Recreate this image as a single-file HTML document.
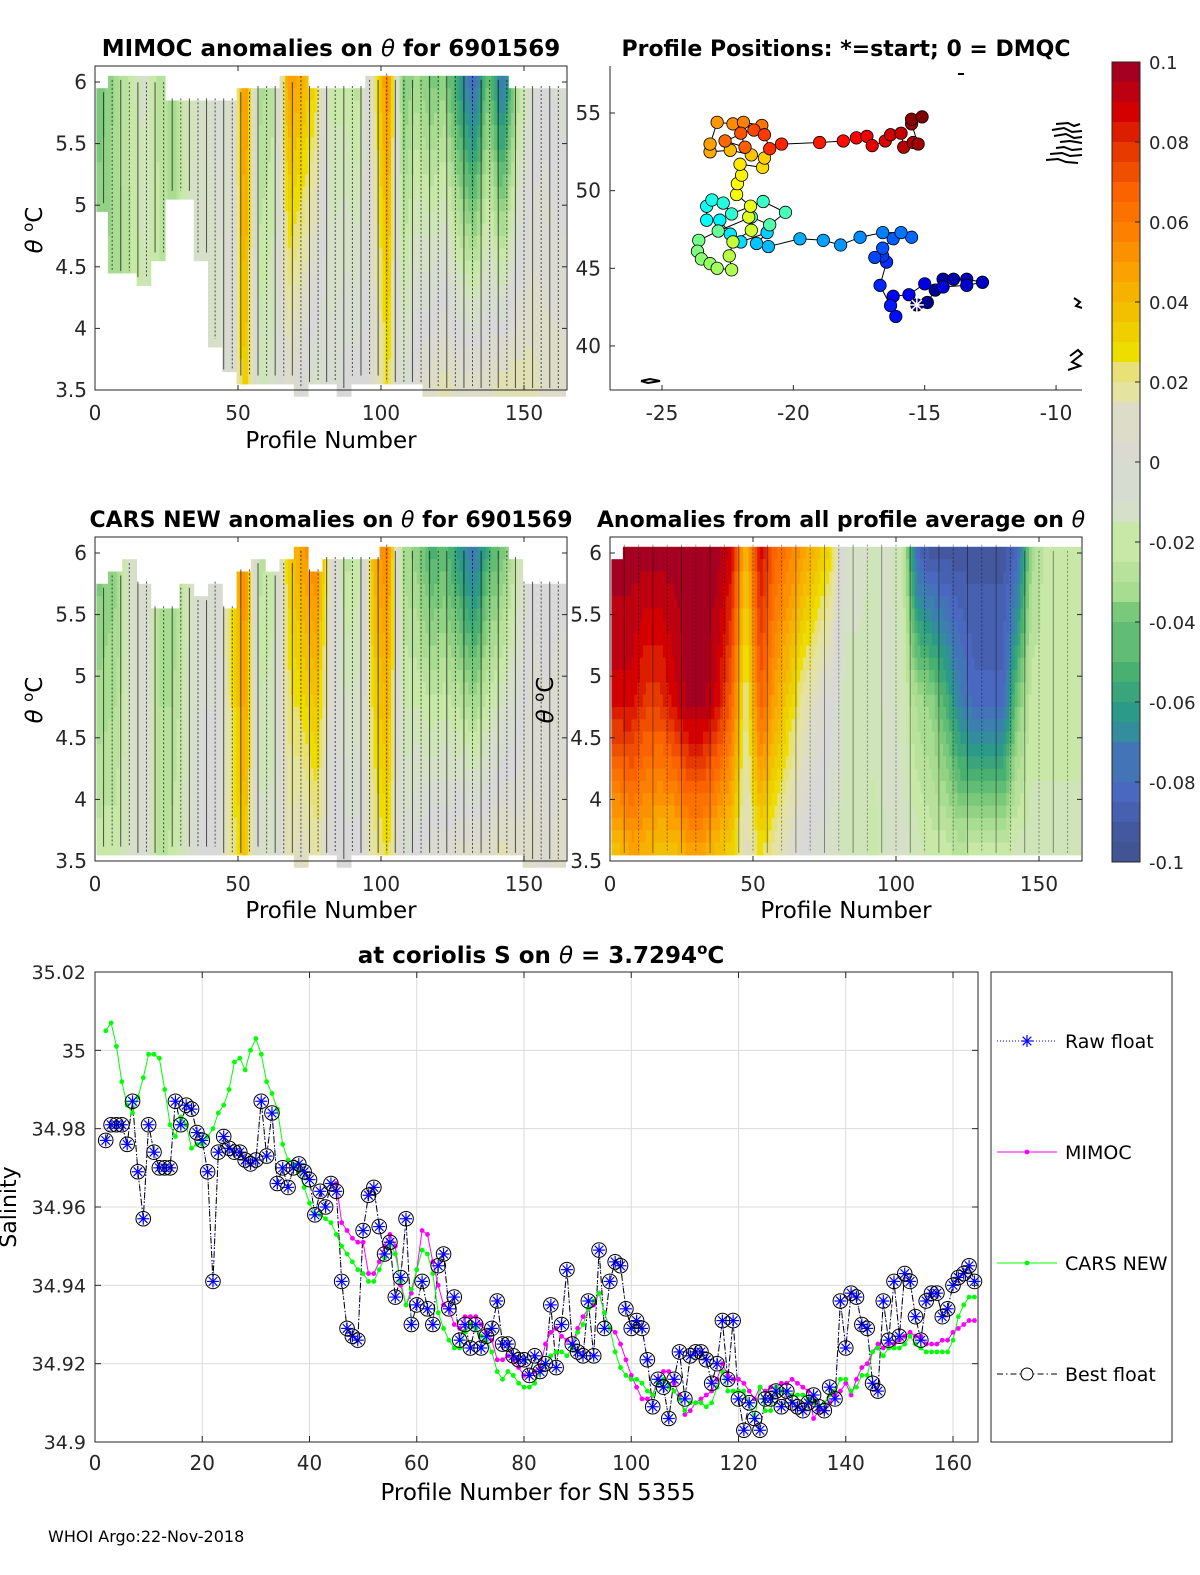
<!DOCTYPE html>
<html><head><meta charset="utf-8">
<style>
html,body{margin:0;padding:0;background:#fff;}
svg{display:block;font-family:"DejaVu Sans","Liberation Sans",sans-serif;}
</style></head>
<body>
<svg id="fig" width="1200" height="1575" viewBox="0 0 1200 1575" xmlns="http://www.w3.org/2000/svg">
<rect width="1200" height="1575" fill="#fff"/>
<g id="heat-tl"></g>
<g id="heat-ml"></g>
<g id="heat-mr"></g>
<g id="map"></g>
<g id="cbar"></g>
<g id="sal"></g>
<g id="labels">
<text x="331" y="56" font-size="23" font-weight="bold" text-anchor="middle">MIMOC anomalies on <tspan font-style="italic" font-weight="normal">θ</tspan>  for 6901569</text>
<text x="846" y="56" font-size="22" font-weight="bold" text-anchor="middle">Profile Positions: *=start; 0 = DMQC</text>
<text x="331" y="527" font-size="22" font-weight="bold" text-anchor="middle">CARS NEW anomalies on <tspan font-style="italic" font-weight="normal">θ</tspan> for 6901569</text>
<text x="841" y="527" font-size="22" font-weight="bold" text-anchor="middle">Anomalies from all profile average on <tspan font-style="italic" font-weight="normal">θ</tspan></text>
<text x="331" y="448" font-size="23" text-anchor="middle">Profile Number</text>
<text x="331" y="918" font-size="23" text-anchor="middle">Profile Number</text>
<text x="846" y="918" font-size="23" text-anchor="middle">Profile Number</text>
<text transform="translate(42,230) rotate(-90)" font-size="23" text-anchor="middle"><tspan font-style="italic">θ</tspan> <tspan baseline-shift="super" font-size="15">o</tspan>C</text>
<text transform="translate(42,700) rotate(-90)" font-size="23" text-anchor="middle"><tspan font-style="italic">θ</tspan> <tspan baseline-shift="super" font-size="15">o</tspan>C</text>
<text transform="translate(553,700) rotate(-90)" font-size="23" text-anchor="middle"><tspan font-style="italic">θ</tspan> <tspan baseline-shift="super" font-size="15">o</tspan>C</text>
<text x="541" y="963" font-size="23" font-weight="bold" text-anchor="middle">at coriolis S on <tspan font-style="italic" font-weight="normal">θ</tspan> = 3.7294<tspan baseline-shift="super" font-size="15">o</tspan>C</text>
<text transform="translate(16,1207) rotate(-90)" font-size="22" text-anchor="middle">Salinity</text>
<text x="538" y="1500" font-size="23" text-anchor="middle">Profile Number for SN 5355</text>
<text x="48" y="1542" font-size="16">WHOI Argo:22-Nov-2018</text>
</g>
</svg>
<script>
// ---------- colour map ----------
const cmapVals = [0.1,0.09,0.08,0.07,0.06,0.05,0.04,0.03,0.028,0.02,0.01,0,-0.01,-0.02,-0.03,-0.04,-0.05,-0.06,-0.07,-0.08,-0.09,-0.1];
const cmapCols = ["#a50021","#d40000","#e63a00","#fb6300","#fd8000","#fba200","#f2c000","#eddd00","#e9e060","#e5e3a0","#dcdcc8","#d8d8d8","#d6e0c8","#c8e8a8","#a8dc90","#7ac87a","#48b070","#2c9a88","#3c80b0","#4a68c0","#4458a0","#3e5288"];
function hex2rgb(h){return [parseInt(h.substr(1,2),16),parseInt(h.substr(3,2),16),parseInt(h.substr(5,2),16)];}
function cmap(v){
  v=Math.max(-0.1,Math.min(0.1,v));
  v=Math.round(v*200)/200;
  for(let i=0;i<cmapVals.length-1;i++){
    if(v<=cmapVals[i]&&v>=cmapVals[i+1]){
      const t=(cmapVals[i]-v)/(cmapVals[i]-cmapVals[i+1]);
      const a=hex2rgb(cmapCols[i]),b=hex2rgb(cmapCols[i+1]);
      return "rgb("+a.map((c,k)=>Math.round(c+(b[k]-c)*t)).join(",")+")";
    }
  }
  return cmapCols[0];
}
const NS="http://www.w3.org/2000/svg";
function mk(tag,attrs,parent){const e=document.createElementNS(NS,tag);for(const k in attrs)e.setAttribute(k,attrs[k]);if(parent)parent.appendChild(e);return e;}

// ---------- heatmap data (5-profile bins, anomaly at theta=6 / theta=3.6) ----------
const mimocTop=[-0.04,-0.03,-0.02,-0.01,-0.025,-0.03,-0.015,-0.01,-0.005,-0.01,0.06,-0.03,-0.025,0.05,0.045,0.03,-0.02,-0.02,-0.025,0.02,0.06,-0.04,-0.03,-0.04,-0.035,-0.06,-0.08,-0.04,-0.075,-0.03,-0.005,0,-0.005];
const mimocBot=[-0.03,-0.03,-0.025,-0.02,-0.02,-0.03,-0.01,-0.01,-0.01,-0.005,0.04,-0.015,-0.01,0.01,0,-0.01,-0.005,0,0,0.005,0.03,-0.01,0.005,0.01,0.015,0.01,0.01,0.01,0.015,0.015,0.015,0.01,0.01];
const mimocTmax=[5.95,6.05,6.03,6.03,6.03,5.9,5.9,5.9,5.9,5.9,5.95,6.0,6.0,6.03,6.08,6.0,6.0,6.0,6.0,6.05,6.1,6.05,6.05,6.08,6.08,6.08,6.08,6.05,6.05,6.0,6.0,6.0,6.0];
const mimocTmin=[5.0,4.45,4.45,4.4,4.6,5.1,5.1,4.6,3.9,3.65,3.6,3.6,3.6,3.6,3.5,3.55,3.55,3.5,3.6,3.6,3.55,3.55,3.55,3.5,3.5,3.5,3.5,3.5,3.5,3.5,3.5,3.5,3.5];
const carsTop=[-0.04,-0.035,-0.01,-0.005,-0.03,-0.035,-0.015,-0.005,-0.005,0.03,0.06,-0.025,-0.02,0.035,0.05,0.06,0.01,-0.025,-0.02,0.045,0.06,-0.03,-0.035,-0.05,-0.045,-0.06,-0.075,-0.05,-0.04,-0.02,0,0,0];
const carsBot=[-0.02,-0.02,-0.01,-0.005,-0.025,-0.02,-0.01,0,0,0.02,0.04,-0.01,-0.01,0.015,0.01,0.02,0,0,0,0.02,0.03,-0.005,0,0.005,0.005,0.01,0.01,0.01,0.015,0.01,0.01,0.005,0.01];
const carsTmax=[5.75,5.85,5.95,5.8,5.6,5.6,5.75,5.65,5.8,5.6,5.9,5.95,5.85,5.95,6.05,5.9,6.0,6.0,6.0,6.0,6.1,6.05,6.05,6.05,6.05,6.05,6.05,6.05,6.05,6.0,5.8,5.8,5.8];
const carsTmin=[3.6,3.6,3.6,3.55,3.55,3.6,3.6,3.6,3.6,3.55,3.55,3.6,3.55,3.55,3.5,3.55,3.55,3.5,3.55,3.55,3.55,3.55,3.55,3.55,3.55,3.55,3.55,3.55,3.55,3.55,3.5,3.5,3.5];
const avgTop=[0.1,0.1,0.1,0.1,0.1,0.1,0.1,0.1,0.09,0.04,0.09,0.07,0.06,0.05,0.04,0.03,-0.01,-0.01,-0.015,-0.01,-0.02,-0.08,-0.09,-0.09,-0.09,-0.09,-0.09,-0.09,-0.08,-0.03,-0.02,-0.02,-0.02];
const avgMid=[0.09,0.09,0.08,0.08,0.09,0.1,0.1,0.09,0.07,0.02,0.07,0.05,0.035,0.02,0.01,0,-0.015,-0.015,-0.015,-0.01,-0.015,-0.03,-0.035,-0.05,-0.07,-0.08,-0.08,-0.08,-0.04,-0.02,-0.02,-0.02,-0.02];
const avgBot=[0.04,0.05,0.045,0.04,0.04,0.05,0.05,0.04,0.035,0.01,0.03,0.02,0.01,0,-0.005,-0.01,-0.015,-0.015,-0.02,-0.01,-0.01,-0.015,-0.02,-0.02,-0.025,-0.02,-0.02,-0.02,-0.015,-0.015,-0.015,-0.015,-0.015];
const avgTmax=[5.95,6.1,6.1,6.1,6.1,6.1,6.1,6.1,6.1,6.1,6.1,6.1,6.1,6.1,6.1,6.1,6.1,6.1,6.1,6.1,6.1,6.1,6.1,6.1,6.1,6.1,6.1,6.1,6.1,6.05,6.05,6.05,6.05];
const avgTmin=[3.55,3.55,3.55,3.55,3.55,3.55,3.55,3.55,3.55,3.55,3.55,3.55,3.55,3.55,3.55,3.55,3.55,3.55,3.55,3.55,3.55,3.55,3.55,3.55,3.55,3.55,3.55,3.55,3.55,3.55,3.55,3.55,3.55];
const thetaTicks=[6,5.5,5,4.5,4,3.5];
const profTicks=[0,50,100,150];

function lerp(a,b,t){return a+(b-a)*t;}
function binVal(arr,p){const f=Math.max(0,Math.min(32,p/5-0.5));const i=Math.floor(f),j=Math.min(32,i+1);return lerp(arr[i],arr[j],f-i);}
function drawHeat(gid,x0,yTop,top,bot,mid,tmax,tmin,opts){
  const g=document.getElementById(gid);
  const X=p=>x0+p*2.86;
  const Y=th=>yTop+16+(6-th)*123.2;
  for(let p=1;p<=164;p++){
    const b=Math.min(32,Math.floor(p/5));
    for(let th=6.15;th>=3.5-1e-9;th-=0.1){
      const thc=th-0.05;
      if(thc>tmax[b]||thc<tmin[b]) continue;
      const t=Math.max(0,Math.min(1,(thc-3.6)/2.4));
      let v;
      if(mid){v=t>0.5?lerp(binVal(mid,p),binVal(top,p),(t-0.5)*2):lerp(binVal(bot,p),binVal(mid,p),t*2);}
      else v=lerp(binVal(bot,p),binVal(top,p),t);
      const r=mk('rect',{x:X(p-0.5).toFixed(1),y:Y(th).toFixed(1),width:3.4,height:12.9,fill:cmap(v)},g);
      
      
    }
    if(p%opts.lineEvery===0){
      const ln=mk('line',{x1:X(p),x2:X(p),y1:Y(tmax[b])+4,y2:Y(tmin[b])-2,stroke:'#000','stroke-width':1,opacity:opts.lineOp,'stroke-dasharray':(p%2?'none':'2,2')},g);
      
      
    }
  }
  const bx=mk('rect',{x:x0,y:yTop,width:472,height:324,fill:'none',stroke:'#262626','stroke-width':1},g);
  
  
  thetaTicks.forEach(th=>{
    mk('line',{x1:x0,x2:x0+5,y1:Y(th),y2:Y(th),stroke:'#262626'},g);
    mk('line',{x1:x0+467,x2:x0+472,y1:Y(th),y2:Y(th),stroke:'#262626'},g);
    const tx=mk('text',{x:x0-8,y:Y(th)+7,'font-size':20,'text-anchor':'end',fill:'#262626'},g);
    tx.textContent=String(th);
    
    
  });
  profTicks.forEach(pv=>{
    mk('line',{x1:X(pv),x2:X(pv),y1:yTop+324,y2:yTop+319,stroke:'#262626'},g);
    mk('line',{x1:X(pv),x2:X(pv),y1:yTop,y2:yTop+5,stroke:'#262626'},g);
    const tx=mk('text',{x:X(pv),y:yTop+354,'font-size':20,'text-anchor':'middle',fill:'#262626'},g);
    tx.textContent=String(pv);
    
    
  });
}
drawHeat('heat-tl',95,66,mimocTop,mimocBot,null,mimocTmax,mimocTmin,{lineEvery:3,lineOp:0.65});
drawHeat('heat-ml',95,537,carsTop,carsBot,null,carsTmax,carsTmin,{lineEvery:3,lineOp:0.65});
drawHeat('heat-mr',610,537,avgTop,avgBot,avgMid,avgTmax,avgTmin,{lineEvery:5,lineOp:0.4});

// ---------- colorbar ----------
const cbTicks=[0.1,0.08,0.06,0.04,0.02,0,-0.02,-0.04,-0.06,-0.08,-0.1];
(function(){
  const g=document.getElementById('cbar');
  const Y=v=>62+(0.1-v)*4000;
  for(let i=0;i<40;i++){
    const v=0.1-(i+0.5)*0.005;
    const r=mk('rect',{x:1112,y:Y(0.1-i*0.005),width:28,height:20.5,fill:cmap(v)},g);
    
    
  }
  mk('rect',{x:1112,y:62,width:28,height:800,fill:'none',stroke:'#262626'},g);
  cbTicks.forEach(v=>{
    mk('line',{x1:1135,x2:1140,y1:Y(v),y2:Y(v),stroke:'#262626'},g);
    const t=mk('text',{x:1149,y:Y(v)+7,'font-size':18,fill:'#262626'},g);
    t.textContent=(v===0?'0':String(v));
    
    
  });
})();

// ---------- map ----------
const mapLon=[-15.3,-14.9,-14.6,-14.3,-13.9,-13.4,-12.8,-13.4,-14.3,-15.0,-15.6,-16.2,-16.1,-16.3,-16.7,-16.45,-16.6,-16.9,-16.6,-16.2,-15.5,-15.9,-16.6,-17.46,-18.2,-18.86,-19.75,-20.95,-21.4,-21.0,-22.0,-22.4,-22.8,-23.3,-23.3,-23.1,-22.67,-22.35,-21.15,-20.3,-20.9,-21.6,-22.86,-23.6,-23.65,-23.5,-23.17,-22.9,-22.35,-22.44,-22.3,-21.6,-21.7,-21.63,-22.16,-22.13,-21.97,-22.03,-21.17,-21.1,-21.6,-22.4,-23.17,-23.17,-22.9,-22.3,-21.9,-21.2,-22.6,-21.84,-22.0,-21.5,-21.1,-20.9,-20.45,-19.0,-18.1,-17.6,-17.2,-17.0,-16.5,-16.3,-15.9,-15.8,-15.44,-15.25,-15.5,-15.5,-15.1];
const mapLat=[42.64,42.8,43.6,44.3,44.3,44.3,44.1,43.9,43.8,44.0,43.3,43.2,41.9,42.6,43.9,45.4,45.8,45.7,46.3,46.9,47.0,47.3,47.3,47.0,46.5,46.8,46.9,46.4,46.6,47.3,46.7,47.2,48.1,48.1,49.0,49.4,49.2,48.5,49.3,48.6,47.8,48.3,47.4,46.8,46.1,45.6,45.3,45.0,44.9,45.8,46.7,47.45,48.3,49.0,49.75,50.45,51.0,51.7,51.5,52.1,52.3,52.6,52.5,53.0,54.4,54.3,54.4,54.2,53.2,52.8,53.7,53.9,53.6,52.7,53.0,53.1,53.2,53.4,53.5,52.9,53.2,53.6,53.7,52.8,53.1,53.0,54.3,54.6,54.75];
const lonTicks=[-25,-20,-15,-10];
const latTicks=[40,45,50,55];
function jet(t){
  const r=Math.max(0,Math.min(1,1.5-Math.abs(4*t-3))),g=Math.max(0,Math.min(1,1.5-Math.abs(4*t-2))),b=Math.max(0,Math.min(1,1.5-Math.abs(4*t-1)));
  return "rgb("+[r,g,b].map(c=>Math.round(c*255)).join(",")+")";
}
(function(){
  const g=document.getElementById('map');
  const X=lon=>662+(lon+25)*26.27;
  const Y=lat=>113+(55-lat)*15.53;
  const coasts=["1056,124 1068,123 1074,126 1080,124","1052,130 1064,128 1072,132 1082,131","1054,136 1066,134 1074,138 1082,137","1060,142 1070,141 1082,143","1056,148 1064,147 1072,150 1082,149","1050,154 1062,153 1070,156 1082,155","1046,160 1058,159 1066,162 1078,163","1074,298 1080,302 1076,306 1082,308","1070,356 1078,350 1082,354 1072,362 1080,366 1068,370","641,381 650,379 660,381 648,383 641,381","958,74 964,74"];
  coasts.forEach(c=>{const pl=mk('polyline',{points:c,fill:'none',stroke:'#000','stroke-width':2},g);});
  const pts=mapLon.map((lo,i)=>X(lo).toFixed(1)+','+Y(mapLat[i]).toFixed(1)).join(' ');
  const path=mk('polyline',{points:pts,fill:'none',stroke:'#000','stroke-width':1},g);
  
  
  const n=mapLon.length;
  mapLon.forEach((lo,i)=>{
    const c=mk('circle',{cx:X(lo),cy:Y(mapLat[i]),r:6.2,fill:jet(i/(n-1)),stroke:'#000','stroke-width':0.8},g);
    
    
  });
  const sx=X(mapLon[0]),sy=Y(mapLat[0]);
  const st=mk('g',{},g);
  
  
  [[7,0],[0,7],[5,5],[5,-5]].forEach(d=>mk('line',{x1:sx-d[0],y1:sy-d[1],x2:sx+d[0],y2:sy+d[1],stroke:'#fff','stroke-width':1.5},st));
  mk('line',{x1:610,x2:610,y1:66,y2:390,stroke:'#262626'},g);
  mk('line',{x1:610,x2:1082,y1:390,y2:390,stroke:'#262626'},g);
  lonTicks.forEach(v=>{
    mk('line',{x1:X(v),x2:X(v),y1:390,y2:385,stroke:'#262626'},g);
    const t=mk('text',{x:X(v),y:420,'font-size':20,'text-anchor':'middle',fill:'#262626'},g);
    t.textContent=String(v);
    
    
  });
  latTicks.forEach(v=>{
    mk('line',{x1:610,x2:615,y1:Y(v),y2:Y(v),stroke:'#262626'},g);
    const t=mk('text',{x:601,y:Y(v)+7,'font-size':20,'text-anchor':'end',fill:'#262626'},g);
    t.textContent=String(v);
    
    
  });
})();

// ---------- salinity chart ----------
const bestStart=2;
const bestFloat=[34.977,34.981,34.981,34.981,34.976,34.987,34.969,34.957,34.981,34.974,34.970,34.970,34.970,34.987,34.981,34.986,34.985,34.979,34.977,34.969,34.941,34.974,34.978,34.975,34.974,34.974,34.972,34.971,34.972,34.987,34.973,34.984,34.966,34.970,34.965,34.970,34.971,34.969,34.967,34.958,34.964,34.960,34.966,34.964,34.941,34.929,34.927,34.926,34.954,34.963,34.965,34.955,34.948,34.951,34.937,
34.942,34.957,34.930,34.935,34.941,34.934,34.930,34.945,34.948,34.934,34.937,34.926,34.930,34.924,34.930,34.924,34.927,34.929,34.936,34.925,34.925,34.922,34.921,34.921,34.917,34.922,34.918,34.920,34.935,34.919,34.930,34.944,34.925,34.923,34.922,34.936,34.922,34.949,34.929,34.941,34.946,34.945,34.934,34.929,34.931,34.929,34.921,34.909,34.916,34.914,34.906,34.916,34.923,34.911,
34.922,34.923,34.923,34.921,34.915,34.920,34.931,34.916,34.931,34.911,34.903,34.910,34.906,34.903,34.911,34.911,34.913,34.909,34.913,34.910,34.909,34.908,34.910,34.912,34.909,34.908,34.914,34.911,34.936,34.924,34.938,34.937,34.930,34.929,34.915,34.913,34.936,34.926,34.941,34.927,34.943,34.941,34.932,34.926,34.936,34.938,34.938,34.932,34.934,34.940,34.942,34.943,34.945,34.941];
const rawFloat=bestFloat.slice();
const carsStart=2;
const carsNew=[35.005,35.007,35.001,34.992,34.986,34.984,34.988,34.993,34.999,34.999,34.998,34.990,34.981,34.978,34.983,34.981,34.975,34.976,34.976,34.978,34.980,34.984,34.986,34.990,34.997,34.998,34.995,35.000,35.003,34.999,34.992,34.989,34.985,34.976,34.972,34.971,34.969,34.965,34.961,34.958,34.958,34.957,34.956,34.953,34.950,34.948,34.946,34.944,34.943,34.941,34.941,34.944,34.947,34.951,
34.948,34.941,34.935,34.939,34.944,34.949,34.948,34.943,34.933,34.929,34.926,34.924,34.924,34.928,34.930,34.929,34.927,34.926,34.923,34.918,34.916,34.918,34.917,34.915,34.914,34.914,34.915,34.918,34.920,34.922,34.923,34.923,34.922,34.924,34.928,34.930,34.934,34.936,34.938,34.933,34.929,34.923,34.919,34.917,34.916,34.916,34.915,34.913,34.912,34.915,34.916,34.914,34.913,34.911,34.908,
34.910,34.910,34.910,34.909,34.910,34.914,34.918,34.913,34.913,34.913,34.913,34.910,34.906,34.914,34.908,34.908,34.914,34.913,34.913,34.912,34.912,34.912,34.911,34.910,34.909,34.910,34.912,34.913,34.916,34.916,34.913,34.914,34.917,34.917,34.923,34.924,34.922,34.924,34.924,34.924,34.925,34.927,34.925,34.924,34.923,34.923,34.923,34.923,34.923,34.926,34.932,34.935,34.937,34.937];
const mimocStart=45;
const mimoc=[34.966,34.956,34.954,34.952,34.951,34.951,34.943,34.943,34.946,34.950,34.953,
34.950,34.940,34.935,34.938,34.944,34.954,34.953,34.946,34.940,34.935,34.934,34.930,34.929,34.932,34.932,34.932,34.930,34.928,34.926,34.921,34.921,34.922,34.921,34.919,34.917,34.917,34.918,34.919,34.925,34.928,34.929,34.927,34.926,34.925,34.929,34.932,34.934,34.935,34.938,34.933,34.929,34.928,34.925,34.921,34.917,34.914,34.911,34.911,34.912,34.916,34.918,34.918,34.915,34.912,34.907,
34.908,34.910,34.911,34.912,34.913,34.916,34.920,34.917,34.916,34.916,34.915,34.913,34.911,34.914,34.913,34.914,34.914,34.915,34.915,34.916,34.915,34.914,34.913,34.906,34.908,34.908,34.910,34.912,34.913,34.915,34.912,34.916,34.919,34.920,34.923,34.925,34.924,34.925,34.925,34.926,34.927,34.928,34.927,34.927,34.925,34.925,34.925,34.926,34.926,34.928,34.929,34.930,34.931,34.931];
const salXTicks=[0,20,40,60,80,100,120,140,160];
const salYTicks=[34.9,34.92,34.94,34.96,34.98,35,35.02];
const salYLabels=["34.9","34.92","34.94","34.96","34.98","35","35.02"];
(function(){
  const g=document.getElementById('sal');
  const L=95,R=978,T=972,B=1442;
  const X=p=>L+p*5.3625;
  const Y=s=>B-(s-34.9)/0.12*(B-T);
  salXTicks.forEach(v=>{const l=mk('line',{x1:X(v),x2:X(v),y1:T,y2:B,stroke:'#dcdcdc','stroke-width':1},g);});
  salYTicks.forEach(v=>{const l=mk('line',{x1:L,x2:R,y1:Y(v),y2:Y(v),stroke:'#dcdcdc','stroke-width':1},g);});
  function series(arr,start,attrs,name){
    const pts=arr.map((v,i)=>X(start+i).toFixed(1)+','+Y(v).toFixed(1)).join(' ');
    const pl=mk('polyline',Object.assign({points:pts,fill:'none'},attrs),g);
    
    
  }
  series(rawFloat,bestStart,{stroke:'#0000ff','stroke-width':1,'stroke-dasharray':'1,2'},'raw-float-line');
  series(bestFloat,bestStart,{stroke:'#000','stroke-width':1,'stroke-dasharray':'6,3,1.5,3'},'best-float-line');
  series(mimoc,mimocStart,{stroke:'#ff00ff','stroke-width':1},'mimoc-line');
  series(carsNew,carsStart,{stroke:'#00ff00','stroke-width':1},'cars-new-line');
  mimoc.forEach((v,i)=>{const c=mk('circle',{cx:X(mimocStart+i),cy:Y(v),r:2.4,fill:'#ff00ff'},g);});
  carsNew.forEach((v,i)=>{const c=mk('circle',{cx:X(carsStart+i),cy:Y(v),r:2.4,fill:'#00ff00'},g);});
  function star(x,y,parent){[[6,0],[0,6],[4.3,4.3],[4.3,-4.3]].forEach(d=>mk('line',{x1:x-d[0],y1:y-d[1],x2:x+d[0],y2:y+d[1],stroke:'#0000ff','stroke-width':1.2},parent));}
  rawFloat.forEach((v,i)=>{const s=mk('g',{},g);star(X(bestStart+i),Y(v),s);});
  bestFloat.forEach((v,i)=>{const c=mk('circle',{cx:X(bestStart+i),cy:Y(v),r:7.3,fill:'none',stroke:'#000','stroke-width':1},g);});
  const bx=mk('rect',{x:L,y:T,width:R-L,height:B-T,fill:'none',stroke:'#262626'},g);
  
  
  salXTicks.forEach(v=>{
    mk('line',{x1:X(v),x2:X(v),y1:B,y2:B-6,stroke:'#262626'},g);
    mk('line',{x1:X(v),x2:X(v),y1:T,y2:T+6,stroke:'#262626'},g);
    const t=mk('text',{x:X(v),y:B+28,'font-size':20,'text-anchor':'middle',fill:'#262626'},g);
    t.textContent=String(v);
    
    
  });
  salYTicks.forEach((v,i)=>{
    mk('line',{x1:L,x2:L+6,y1:Y(v),y2:Y(v),stroke:'#262626'},g);
    mk('line',{x1:R-6,x2:R,y1:Y(v),y2:Y(v),stroke:'#262626'},g);
    const t=mk('text',{x:L-9,y:Y(v)+7,'font-size':19,'text-anchor':'end',fill:'#262626'},g);
    t.textContent=salYLabels[i];
    
    
  });
  const lg=mk('g',{},g);
  
  
  mk('rect',{x:991,y:972,width:181,height:470,fill:'#fff',stroke:'#262626'},lg);
  const entries=[["Raw float",1041],["MIMOC",1152],["CARS NEW",1263],["Best float",1374]];
  entries.forEach((e,i)=>{
    const eg=mk('g',{},lg);
    
    
    const y=e[1];
    const st=[{stroke:'#0000ff','stroke-dasharray':'1,2'},{stroke:'#ff00ff'},{stroke:'#00ff00'},{stroke:'#000','stroke-dasharray':'6,3,1.5,3'}][i];
    mk('line',Object.assign({x1:997,x2:1057,y1:y,y2:y,'stroke-width':1},st),eg);
    if(i===0) star(1027,y,eg);
    if(i===1) mk('circle',{cx:1027,cy:y,r:2.4,fill:'#ff00ff'},eg);
    if(i===2) mk('circle',{cx:1027,cy:y,r:2.4,fill:'#00ff00'},eg);
    if(i===3) mk('circle',{cx:1027,cy:y,r:6,fill:'#fff',stroke:'#000'},eg);
    const t=mk('text',{x:1065,y:y+7,'font-size':19,fill:'#000'},eg);
    t.textContent=e[0];
  });
})();
</script>
</body></html>
